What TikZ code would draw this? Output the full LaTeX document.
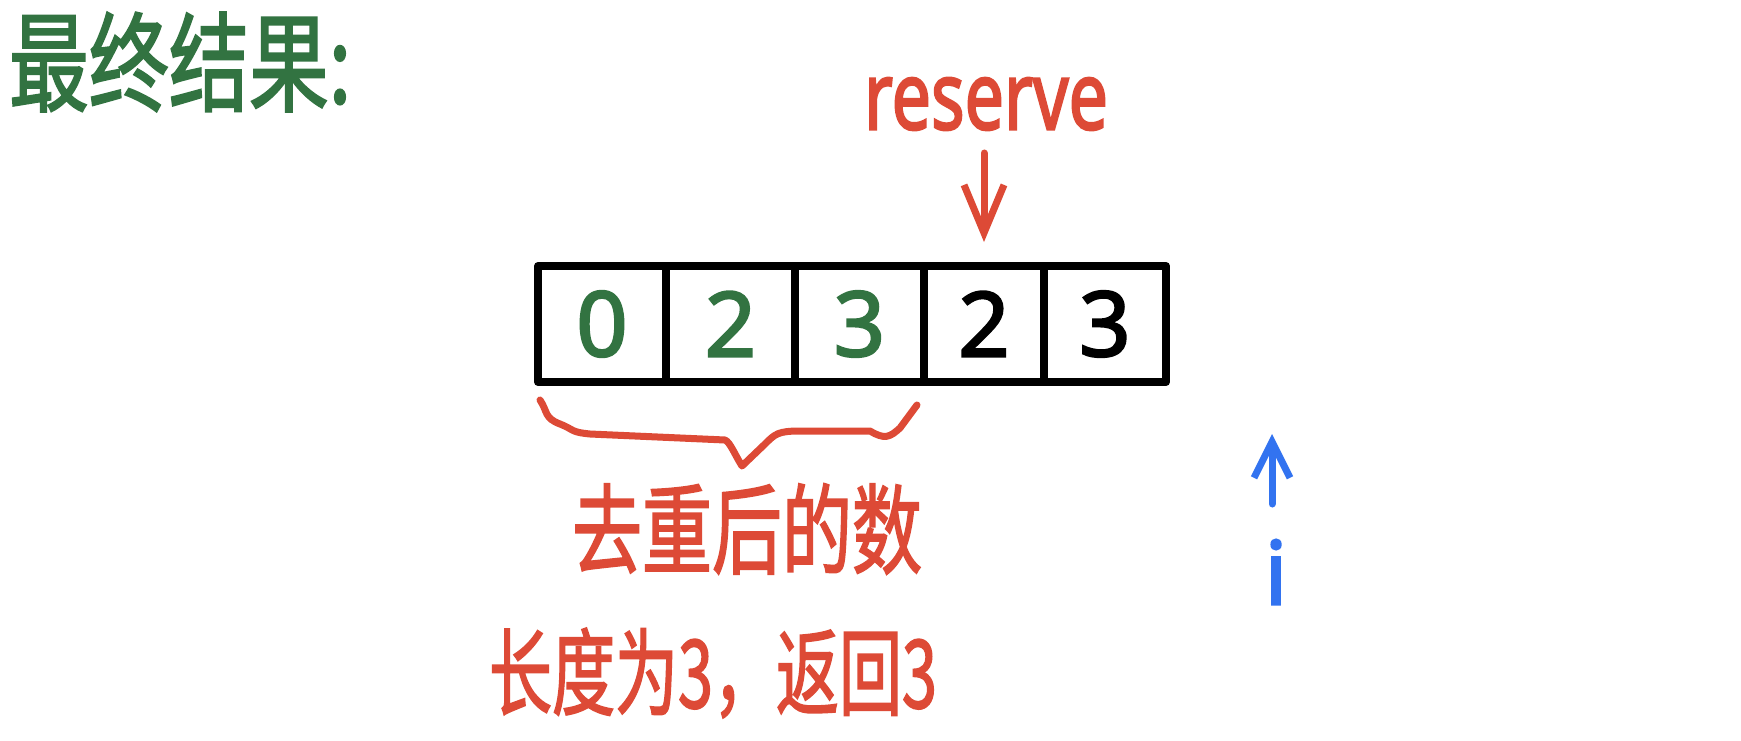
\documentclass[tikz,border=0pt]{standalone}
\usepackage{fontspec}
\setmainfont{Noto Sans}
\newfontfamily\cjk{Noto Sans CJK SC}[FakeBold=2]
\newfontfamily\hand{Noto Sans}[FakeBold=2.5]
\usetikzlibrary{arrows.meta}
\definecolor{hgreen}{HTML}{327341}
\definecolor{hred}{HTML}{DD4A36}
\definecolor{hblue}{HTML}{3273F0}
\tikzset{
  cell/.style={draw=black, line width=8pt, minimum height=116pt, inner sep=0pt, line join=round},
  digit/.style={font=\hand\fontsize{90}{90}\selectfont},
  cjktext/.style={inner sep=0pt},
  handarrow/.style={line width=7pt, line cap=round, line join=round},
}
\begin{document}
\begin{tikzpicture}[x=1pt,y=-1pt]
\useasboundingbox[fill=white] (0,0) rectangle (1741,741);
% title
\node[cjktext, text=hgreen] (title) at (180,62) {\scalebox{1}[1.35]{\cjk\fontsize{80}{80}\selectfont 最终结果:}};
% array cells
\node[cell, minimum width=128pt] (c1) at (602,324) {};
\node[cell, minimum width=129pt] (c2) at (730.5,324) {};
\node[cell, minimum width=129pt] (c3) at (859.5,324) {};
\node[cell, minimum width=120pt] (c4) at (984,324) {};
\node[cell, minimum width=122pt] (c5) at (1105,324) {};
\node[digit, text=hgreen] (d1) at (c1) {0};
\node[digit, text=hgreen] (d2) at (c2) {2};
\node[digit, text=hgreen] (d3) at (c3) {3};
\node[digit, text=black] (d4) at (c4) {2};
\node[digit, text=black] (d5) at (c5) {3};
% reserve
\node[text=hred, inner sep=0pt] (reserve) at (986,104) {\scalebox{1}[1.35]{\hand\fontsize{70}{70}\selectfont reserve}};
\coordinate (rtail) at (984,153);
\coordinate (rtip) at (984,242);
\draw[handarrow, hred, -{Straight Barb[length=48pt,width=40pt,line width=7pt]}] (rtail) -- (rtip);
% brace
\coordinate (bl) at (540,400);
\coordinate (btip) at (742,466);
\coordinate (br) at (917,405);
\draw[line width=7pt, hred, line cap=round, line join=round]
  (bl) .. controls (548,412) and (544,418) .. (560,424)
  .. controls (575,430) and (570,432) .. (590,434)
  -- (725,440) .. controls (730,442) and (735,455) .. (btip)
  -- (765,444) .. controls (775,434) and (778,431) .. (800,431)
  -- (870,431) .. controls (885,440) and (890,437) .. (900,428)
  -- (br);
\node[cjktext, text=hred] (dedup) at (747,529) {\scalebox{1}[1.4]{\cjk\fontsize{70}{70}\selectfont 去重后的数}};
\node[cjktext, text=hred] (ret) at (713,673) {\scalebox{1}[1.5]{\cjk\fontsize{63}{63}\selectfont 长度为3，返回3}};
% pointer i
\node[text=hblue, inner sep=0pt] (ilabel) at (1276,572) {\hand\fontsize{88}{88}\selectfont i};
\coordinate (itail) at (1272,504);
\coordinate (itip) at (1272,434);
\draw[handarrow, hblue, -{Straight Barb[length=36pt,width=36pt,line width=7pt]}] (itail) -- (itip);
\end{tikzpicture}
\end{document}
